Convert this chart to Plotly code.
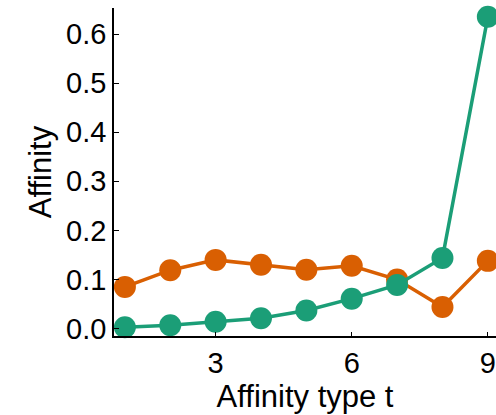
import plotly.graph_objects as go

# Affinity per type t for two groups
affinity_type = [1, 2, 3, 4, 5, 6, 7, 8, 9]
affinity_orange = [0.085, 0.119, 0.140, 0.130, 0.120, 0.128, 0.100, 0.044, 0.138]
affinity_green = [0.003, 0.007, 0.014, 0.021, 0.037, 0.061, 0.089, 0.144, 0.635]

x_ticks = [3, 6, 9]
y_ticks = [0.0, 0.1, 0.2, 0.3, 0.4, 0.5, 0.6]
y_tick_text = ["0.0", "0.1", "0.2", "0.3", "0.4", "0.5", "0.6"]

ORANGE = "#d95f02"
GREEN = "#1b9e77"
FONT = "Liberation Sans, Arial, Helvetica, sans-serif"

fig = go.Figure()
fig.add_trace(go.Scatter(
    x=affinity_type, y=affinity_orange, mode="lines+markers",
    line=dict(color=ORANGE, width=3.5),
    marker=dict(color=ORANGE, size=22),
    cliponaxis=False, showlegend=False,
))
fig.add_trace(go.Scatter(
    x=affinity_type, y=affinity_green, mode="lines+markers",
    line=dict(color=GREEN, width=3.5),
    marker=dict(color=GREEN, size=22),
    cliponaxis=False, showlegend=False,
))

fig.update_layout(
    width=496, height=415,
    margin=dict(l=114, r=0, t=8, b=79),
    paper_bgcolor="white", plot_bgcolor="white",
    font=dict(family=FONT, size=29, color="black"),
)
fig.update_xaxes(
    range=[0.76, 9.18], tickvals=x_ticks,
    showgrid=False, zeroline=False,
    showline=True, linecolor="black", linewidth=1.5,
    ticks="inside", ticklen=4, tickwidth=1, tickcolor="black",
    tickfont=dict(size=29),
    title=dict(text="Affinity type t", font=dict(size=31), standoff=5),
)
fig.update_yaxes(
    range=[-0.015, 0.653], tickvals=y_ticks, ticktext=y_tick_text,
    showgrid=False, zeroline=False,
    showline=True, linecolor="black", linewidth=1.5,
    ticks="inside", ticklen=5, tickwidth=1, tickcolor="black",
    tickfont=dict(size=29),
    title=dict(text="Affinity", font=dict(size=31), standoff=5),
)

fig.write_html("out.html")
